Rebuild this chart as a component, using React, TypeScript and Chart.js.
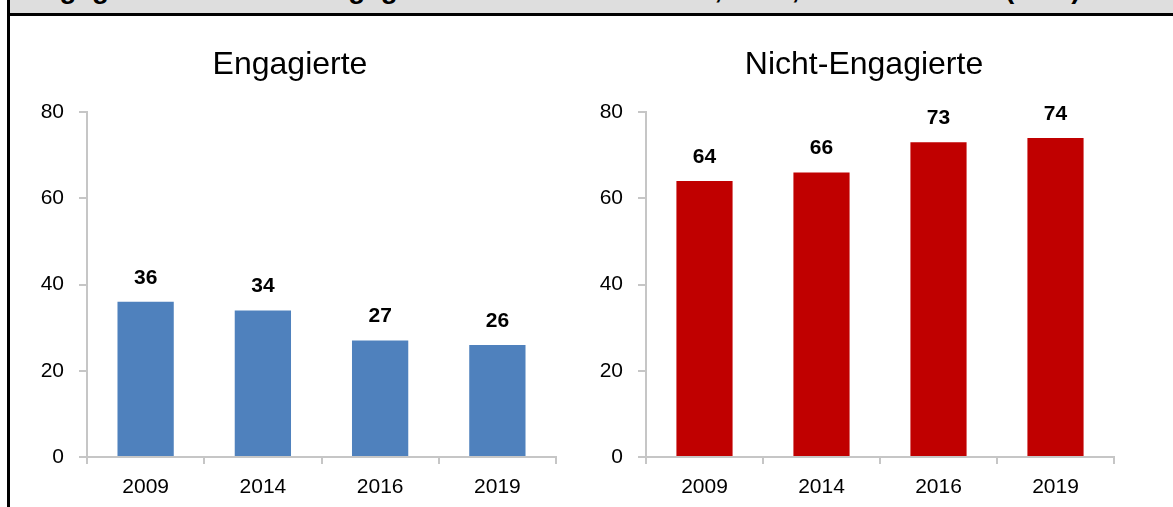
import React, { useEffect, useRef } from "react";
import { Chart, registerables } from "chart.js";

Chart.register(...registerables);

const mainTitle = "Engagierte und Nicht-Engagierte in den Jahren 2009, 2014, 2016 und 2019 (in %)";
const categories = ["2009", "2014", "2016", "2019"];
const engagedValues = [36, 34, 27, 26];
const notEngagedValues = [64, 66, 73, 74];
const yTickValues = [0, 20, 40, 60, 80];

const FONT = "'Liberation Sans', Arial, sans-serif";
const AXIS_COLOR = "#c6c6c6";

const valueLabels = {
  id: "valueLabels",
  afterDatasetsDraw(chart: any) {
    const ctx = chart.ctx;
    const meta = chart.getDatasetMeta(0);
    const data = chart.data.datasets[0].data;
    ctx.save();
    ctx.font = `bold 21px ${FONT}`;
    ctx.fillStyle = "#000";
    ctx.textAlign = "center";
    ctx.textBaseline = "middle";
    meta.data.forEach((bar: any, i: number) => {
      ctx.fillText(String(data[i]), bar.x, bar.y - 24);
    });
    ctx.restore();
  },
};

const panelTitle = {
  id: "panelTitle",
  afterDraw(chart: any, _args: any, opts: any) {
    const ctx = chart.ctx;
    ctx.save();
    ctx.font = `32px ${FONT}`;
    ctx.fillStyle = "#000";
    ctx.textAlign = "center";
    ctx.textBaseline = "middle";
    ctx.fillText(opts.text, opts.centerX, opts.centerY);
    ctx.restore();
  },
};

type PanelProps = {
  title: string;
  values: number[];
  color: string;
  left: number;
  width: number;
  rightPad: number;
  titleCenter: number;
};

function BarPanel({ title, values, color, left, width, rightPad, titleCenter }: PanelProps) {
  const ref = useRef<HTMLCanvasElement | null>(null);
  useEffect(() => {
    if (!ref.current) return;
    const chart = new Chart(ref.current, {
      type: "bar",
      data: {
        labels: categories,
        datasets: [
          {
            data: values,
            backgroundColor: color,
            borderWidth: 0,
            barPercentage: 0.48,
            categoryPercentage: 1,
          },
        ],
      },
      options: {
        animation: false,
        responsive: false,
        devicePixelRatio: 1,
        layout: { padding: { left: 0, right: rightPad, top: 92, bottom: 0 } },
        plugins: {
          legend: { display: false },
          tooltip: { enabled: false },
          title: { display: false },
          panelTitle: { text: title, centerX: titleCenter - left, centerY: 45 },
        } as any,
        scales: {
          x: {
            offset: true,
            grid: {
              display: true,
              drawOnChartArea: false,
              drawTicks: true,
              tickLength: 7,
              color: AXIS_COLOR,
              lineWidth: 2,
              offset: true,
            },
            border: { display: true, color: AXIS_COLOR, width: 2 },
            ticks: {
              color: "#000",
              font: { family: FONT, size: 21 },
              padding: 11,
              maxRotation: 0,
            },
            afterFit: (s: any) => {
              s.height = 50;
            },
          },
          y: {
            min: 0,
            max: 80,
            afterBuildTicks: (s: any) => {
              s.ticks = yTickValues.map((v) => ({ value: v }));
            },
            grid: {
              display: true,
              drawOnChartArea: false,
              drawTicks: true,
              tickLength: 8,
              color: AXIS_COLOR,
              lineWidth: 2,
            },
            border: { display: true, color: AXIS_COLOR, width: 2 },
            ticks: {
              color: "#000",
              font: { family: FONT, size: 21 },
              padding: 15,
            },
            afterFit: (s: any) => {
              s.width = 77;
            },
          },
        },
      },
      plugins: [valueLabels, panelTitle],
    });
    return () => chart.destroy();
  }, [title, values, color, rightPad, titleCenter, left]);
  return (
    <canvas
      ref={ref}
      width={width}
      height={487}
      style={{ position: "absolute", left, top: 20, width, height: 487 }}
    />
  );
}

export default function App() {
  return (
    <div
      style={{
        position: "absolute",
        left: 0,
        top: 0,
        width: 1173,
        height: 507,
        background: "#fff",
        overflow: "hidden",
        fontFamily: FONT,
      }}
    >
      <div
        style={{
          position: "absolute",
          left: 9,
          top: 0,
          width: 1164,
          height: 14,
          background: "#dedede",
          overflow: "hidden",
        }}
      >
        <div
          style={{
            position: "absolute",
            left: 15,
            top: -25,
            whiteSpace: "nowrap",
            fontWeight: "bold",
            fontSize: "27.8px",
            lineHeight: "27.8px",
            color: "#000",
          }}
        >
          {mainTitle}
        </div>
      </div>
      <div style={{ position: "absolute", left: 7, top: 13, width: 1166, height: 3, background: "#000" }} />
      <div style={{ position: "absolute", left: 7, top: 0, width: 2.5, height: 507, background: "#000" }} />
      <BarPanel title="Engagierte" values={engagedValues} color="#4f81bd" left={10} width={560} rightPad={14} titleCenter={290} />
      <BarPanel title="Nicht-Engagierte" values={notEngagedValues} color="#c00000" left={569} width={590} rightPad={45} titleCenter={864} />
    </div>
  );
}
